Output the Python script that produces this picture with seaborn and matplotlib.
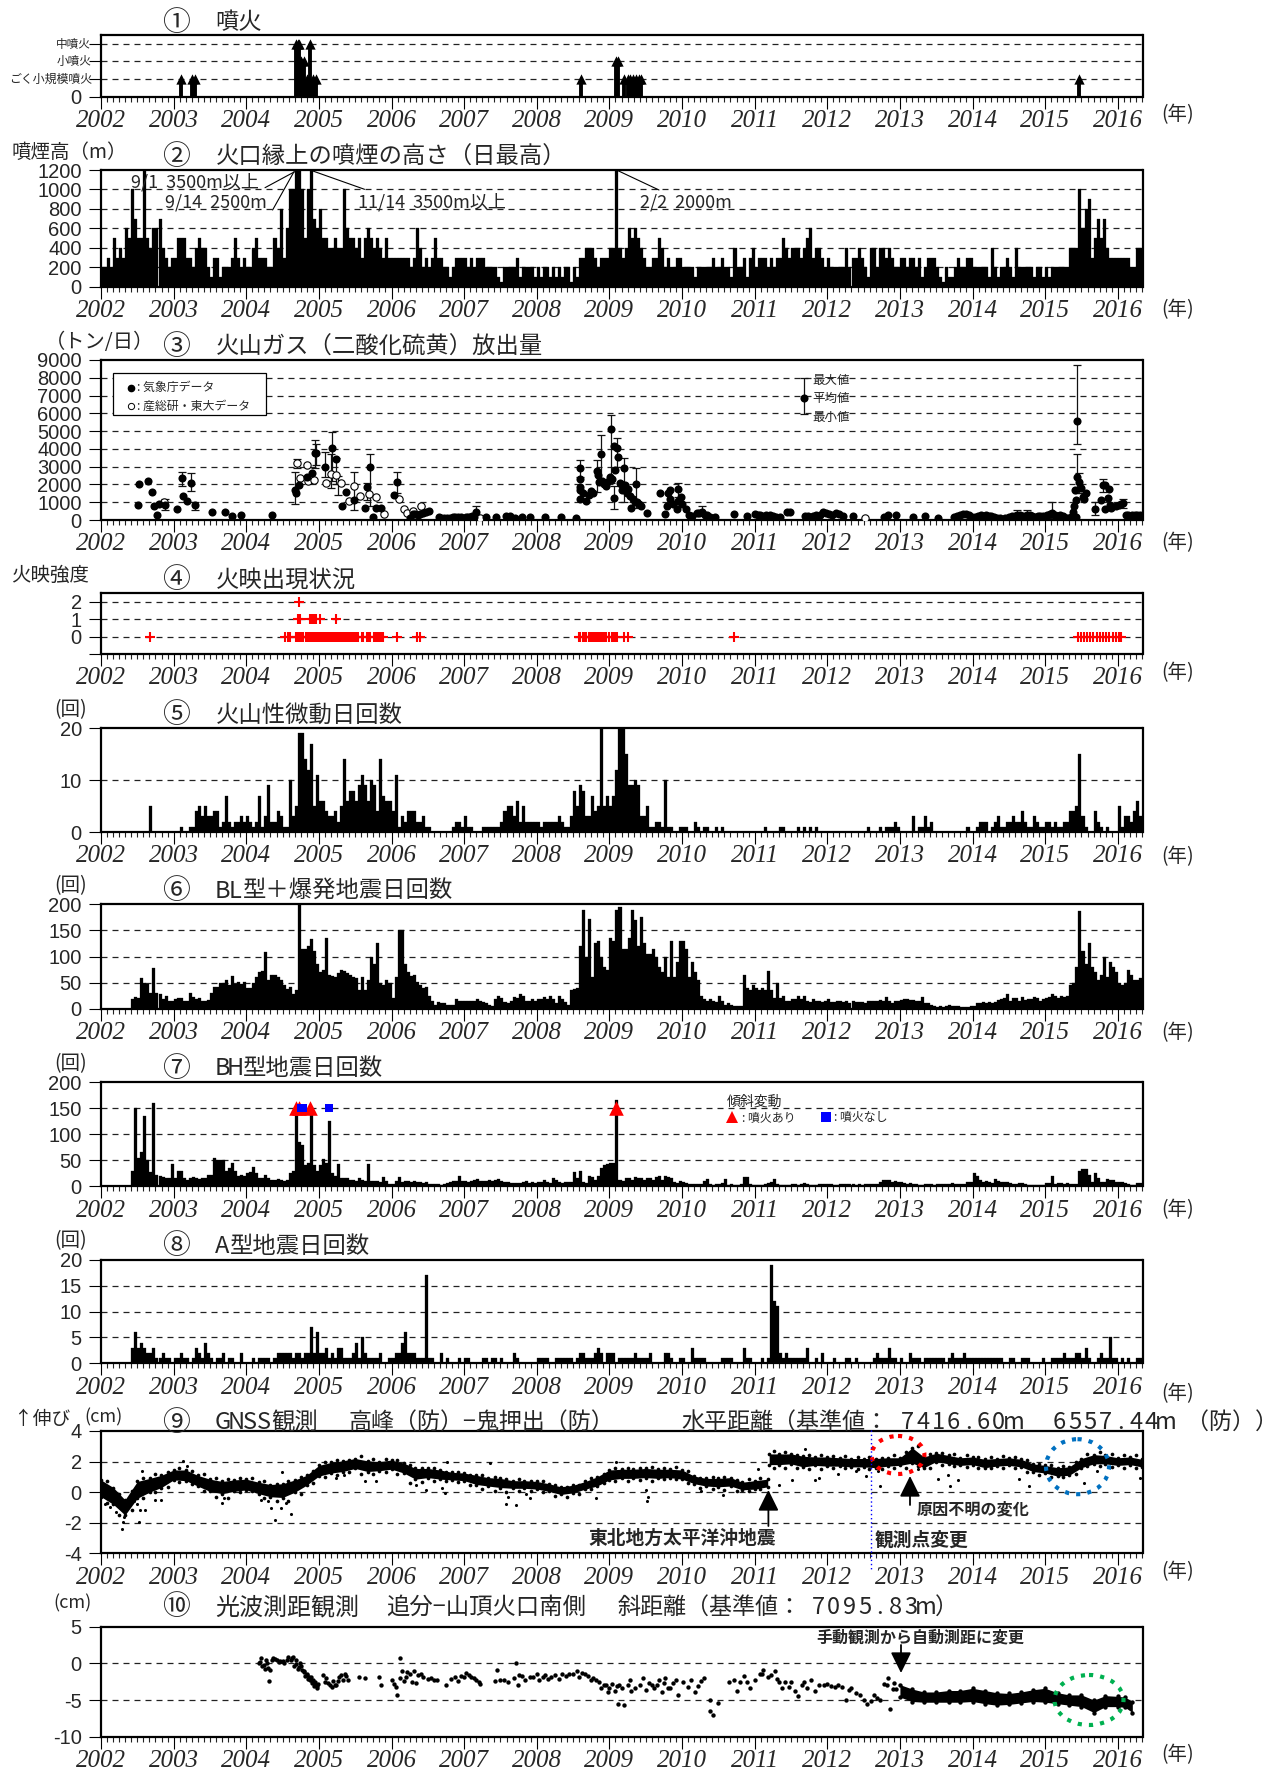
import numpy as np
import pandas as pd
import matplotlib
matplotlib.use("Agg")
import matplotlib.pyplot as plt
from matplotlib.patches import Ellipse, Rectangle
from matplotlib.ticker import MultipleLocator
import seaborn as sns

# half-month bins, one row per year (2002 ... 2016)
smoke_rows = [
    [200,200,300,200,500,300,400,300,600,500,1000,700,500,500,1200,500,400,600,600,700,400,300,200,300],
    [300,500,500,500,300,300,200,400,500,400,400,200,100,300,300,100,200,200,200,300,500,300,200,300],
    [200,200,400,500,300,300,300,200,200,500,400,800,300,600,1000,1000,1200,1200,1000,500,1000,1200,700,600],
    [800,500,500,400,400,500,400,400,1000,600,500,500,400,500,300,500,600,500,400,500,400,300,500,300],
    [300,300,300,300,300,300,200,300,600,400,200,300,200,300,500,300,300,200,200,100,200,300,300,300],
    [300,200,300,200,300,300,300,200,200,200,200,100,50,200,200,200,200,300,100,200,200,200,200,100],
    [200,100,200,200,100,200,100,200,100,200,200,50,200,100,300,300,400,400,400,300,200,300,300,300],
    [400,400,1200,400,300,400,600,500,600,500,400,300,200,200,300,300,500,400,200,300,200,200,300,300],
    [200,200,200,200,100,200,200,200,200,200,300,200,200,300,200,200,100,400,200,200,300,100,300,400],
    [200,300,300,300,200,300,200,300,300,500,400,300,400,400,400,300,400,500,600,300,400,400,300,200],
    [300,200,200,200,200,200,400,200,300,300,400,300,200,100,400,400,200,400,400,300,400,300,200,200],
    [300,300,200,300,300,200,300,100,200,300,300,300,200,100,50,200,100,100,200,300,200,200,300,300],
    [200,200,200,200,200,100,400,200,100,200,200,300,200,100,400,200,200,200,200,200,100,200,200,100],
    [200,100,200,200,200,200,200,200,400,400,400,1000,600,800,900,300,500,700,500,700,400,300,300,300],
    [300,300,300,300,200,200,400,400],
]
tremor_rows = [
    [0,0,0,0,0,0,0,0,0,0,0,0,0,0,0,0,5,0,0,0,0,0,0,0],
    [0,0,1,0,0,1,1,4,5,3,5,3,3,4,4,1,2,7,2,1,2,2,3,2],
    [3,2,1,2,7,1,3,9,2,2,4,3,1,1,10,3,5,19,19,14,12,17,5,11],
    [6,6,4,3,3,4,2,5,14,6,8,8,6,9,11,9,6,10,9,4,14,7,6,6],
    [4,11,1,3,2,4,4,4,2,2,3,1,1,0,0,0,0,0,0,0,1,2,2,1],
    [3,1,1,0,0,0,1,1,1,1,1,1,2,4,5,5,3,6,2,5,2,2,2,2],
    [2,1,2,2,2,2,2,3,2,1,1,3,8,5,9,8,3,3,7,4,5,20,5,7],
    [5,7,12,20,20,15,9,9,10,9,3,3,5,1,1,2,2,1,10,1,1,0,0,1],
    [1,1,0,0,2,1,0,1,1,0,0,1,0,1,0,0,0,0,0,0,0,0,0,0],
    [0,0,0,1,0,0,0,0,1,1,0,0,0,0,1,0,1,0,1,0,1,0,0,0],
    [0,0,0,0,0,0,0,0,0,0,0,0,0,1,0,0,0,1,0,1,1,1,2,1],
    [0,0,0,0,3,0,1,1,3,1,2,0,0,0,0,0,0,0,0,0,0,0,1,0],
    [0,1,2,2,2,0,1,2,3,1,1,2,2,3,2,2,4,2,1,1,3,2,1,1],
    [2,2,1,2,1,1,2,2,4,4,5,15,3,1,0,0,4,2,1,0,1,0,0,0],
    [5,1,3,3,2,4,6,3],
]
bl_rows = [
    [0,0,0,0,0,0,0,0,0,0,18,22,20,58,50,48,30,78,30,28,18,25,15,15],
    [18,20,20,15,15,30,22,18,20,15,15,17,30,42,42,50,50,55,45,62,48,52,48,52],
    [40,40,50,60,70,72,108,55,65,65,60,55,45,38,42,28,35,200,115,115,120,133,110,85],
    [70,75,136,65,62,60,68,75,72,68,65,60,58,35,60,35,55,100,85,125,50,45,55,50],
    [20,60,150,150,85,70,62,65,52,45,40,42,25,15,8,12,10,10,8,8,8,18,15,15],
    [15,15,15,15,18,15,12,10,8,5,18,25,20,12,10,15,22,20,28,25,15,15,18,15],
    [18,18,22,18,25,18,10,25,18,12,8,35,38,40,120,190,100,172,60,125,130,100,80,75],
    [135,130,190,195,115,115,135,190,170,120,175,125,105,105,115,100,80,70,100,60,130,60,90,130],
    [130,115,60,90,70,55,25,18,15,18,15,12,25,15,8,10,8,6,6,6,65,40,35,45],
    [40,35,40,35,72,35,20,50,20,25,15,15,18,18,25,18,25,15,12,18,15,15,12,15],
    [18,12,12,15,15,12,14,10,15,12,12,12,10,15,15,15,15,16,15,22,15,10,14,14],
    [16,18,18,16,16,15,14,22,10,10,8,5,4,6,3,6,8,6,5,6,4,4,4,6],
    [6,10,10,12,10,12,10,12,16,18,20,28,15,20,20,15,22,16,18,18,22,20,14,18],
    [20,22,28,25,20,25,22,25,45,50,80,188,110,85,125,80,70,55,65,100,60,90,80,70],
    [50,45,50,75,65,55,55,58],
]
bh_rows = [
    [0,0,0,0,0,0,0,0,0,0,30,150,55,65,135,50,28,160,22,20,18,15,15,42],
    [15,30,30,15,12,15,18,15,14,15,15,22,22,55,50,50,50,30,35,45,30,20,22,20],
    [25,28,38,25,15,15,22,15,13,13,14,12,10,12,25,30,150,85,80,40,45,137,40,30],
    [40,52,45,125,25,20,42,15,15,15,12,12,10,15,12,10,42,10,10,10,8,18,10,5],
    [5,10,18,8,10,10,8,10,8,8,7,8,5,5,5,4,3,4,6,8,10,10,20,10],
    [10,8,10,12,14,10,10,10,12,10,13,14,10,8,8,7,6,6,6,8,10,6,8,6],
    [8,8,12,8,6,15,12,8,6,8,8,8,28,15,30,8,6,20,18,12,20,35,40,42],
    [45,45,165,12,10,15,15,12,18,15,15,12,15,15,12,18,20,12,20,18,15,8,6,10],
    [8,6,5,5,4,4,5,10,14,5,3,4,5,6,14,3,4,3,3,4,18,18,4,3],
    [3,3,3,5,6,8,14,5,3,2,3,3,4,4,3,4,6,4,3,3,3,5,4,4],
    [5,4,3,3,4,4,5,4,4,3,4,3,5,4,5,4,4,8,12,12,12,8,10,8],
    [8,6,5,6,5,4,3,3,5,4,4,3,5,4,5,5,5,6,5,5,5,5,8,8],
    [26,20,12,8,10,8,6,14,10,8,8,8,6,5,5,6,6,4,2,2,3,3,2,2],
    [6,6,20,5,6,6,5,6,5,5,5,30,33,33,22,8,25,15,8,8,14,12,12,8],
    [8,8,6,5,3,3,6,6],
]
a_rows = [
    [0,0,0,0,0,0,0,0,0,0,3,6,3,4,3,2,2,3,1,1,2,1,1,0],
    [1,1,2,1,1,0,1,3,2,1,4,2,1,0,1,1,2,0,1,1,0,0,2,0],
    [0,0,1,0,1,1,1,1,0,1,2,2,2,2,2,1,2,2,1,2,2,7,2,6],
    [2,2,3,1,2,1,3,3,1,1,1,2,4,1,5,2,1,1,1,1,2,0,0,1],
    [1,2,2,4,6,2,2,2,1,1,1,17,1,1,0,0,2,0,1,0,0,0,1,0],
    [1,1,0,0,0,0,1,1,0,1,1,0,1,0,0,0,2,1,0,0,0,0,0,0],
    [1,1,1,1,0,0,1,1,1,1,1,1,0,1,2,2,1,1,1,2,3,2,0,2],
    [2,2,0,1,1,1,1,1,2,1,1,1,1,2,0,0,0,0,2,2,1,0,0,1],
    [1,0,0,3,1,1,1,1,0,0,0,0,0,1,1,1,1,0,0,0,3,1,1,0],
    [0,0,1,0,1,19,12,11,2,1,2,1,1,1,1,1,1,3,0,0,1,0,2,0],
    [0,0,1,0,0,0,1,1,0,1,0,0,0,0,0,1,2,1,1,1,3,1,1,0],
    [1,0,0,2,1,1,1,0,1,1,1,1,1,1,1,0,1,2,1,1,1,2,1,1],
    [1,1,1,1,1,1,1,1,1,1,0,0,1,1,0,0,1,1,1,0,0,0,0,1],
    [0,0,1,1,1,1,2,1,1,1,2,2,1,3,1,0,0,1,2,1,1,5,1,1],
    [0,1,0,1,0,0,1,1],
]

# eruptions: year, level
eruptions = [(2003.10,1),(2003.25,1),(2003.29,1),(2004.68,3),(2004.71,3),(2004.73,3),(2004.76,2),
             (2004.79,2),(2004.83,1),(2004.88,3),(2004.92,1),(2004.96,1),(2008.61,1),(2009.09,2),
             (2009.12,2),(2009.20,1),(2009.25,1),(2009.29,1),(2009.33,1),(2009.37,1),(2009.41,1),
             (2009.44,1),(2015.47,1)]

# SO2
so2_jma = [(2002.51,840),(2002.53,2000),(2002.65,2190),(2002.70,1550),(2002.73,800),(2002.77,280),
           (2002.80,900),(2002.88,840),(2003.04,640),(2003.11,2340),(2003.13,1350),(2003.19,1070),
           (2003.24,2100),(2003.29,840),(2003.53,430),(2003.71,470),(2003.80,220),(2003.93,300),
           (2004.36,280),(2004.67,1660),(2004.68,1500),(2004.73,1950),(2004.83,2430),(2004.90,2650),
           (2004.94,3760),(2004.96,3760),(2005.09,3000),(2005.18,4050),(2005.24,3420),(2005.32,760),
           (2005.38,1560),(2005.48,1150),(2005.66,1850),(2005.70,3000),(2005.64,700),(2005.74,190),
           (2005.79,670),(2005.86,670),(2006.04,1430),(2006.08,2140),(2006.26,130),(2006.29,320),
           (2006.39,320),(2006.43,420),(2006.52,480),(2006.65,150),(2006.72,120),(2006.80,130),
           (2006.88,170),(2006.96,190),(2007.02,190),(2007.08,180),(2007.13,180),(2007.17,430),
           (2007.30,190),(2007.44,150),(2007.58,220),(2007.63,220),(2007.70,130),(2007.80,150),
           (2007.91,190),(2008.12,190),(2008.33,190),(2008.54,110),(2008.60,2950),(2008.59,2330),
           (2008.595,1850),(2008.60,1660),(2008.59,1180),(2008.68,1090),(2008.74,1620),(2008.77,1530),
           (2008.83,2770),(2008.84,2520),(2008.88,3720),(2008.86,2140),(2008.92,2040),(2008.97,2140),
           (2009.01,2430),(2009.02,5130),(2009.06,4140),(2009.10,4050),(2009.12,3530),(2009.08,2840),
           (2009.20,2940),(2009.06,1220),(2009.16,2040),(2009.22,1950),(2009.26,1760),(2009.28,1370),
           (2009.30,670),(2009.36,2000),(2009.38,990),(2009.43,800),(2009.52,380),(2009.69,1510),
           (2009.83,1660),(2009.94,1720),(2009.84,1180),(2009.79,800),(2009.77,360),(2009.93,610),
           (2009.95,1090),(2010.00,900),(2010.05,610),(2010.20,370),(2010.28,470),(2010.34,280),
           (2010.45,150),(2010.72,330),(2010.90,220),(2011.01,330),(2011.10,220),(2011.21,280),
           (2011.35,150),(2011.45,430),(2011.49,430),(2011.69,220),(2011.80,220),(2011.94,470),
           (2012.02,330),(2012.12,410),(2012.22,220),(2012.35,220),(2012.78,150),(2012.84,280),
           (2012.94,280),(2013.18,150),(2013.35,240),(2013.53,130),(2013.74,150),(2013.83,280),
           (2013.91,330),(2013.99,190),(2014.07,220),(2014.18,280),(2014.30,190),(2014.38,100),
           (2014.50,150),(2014.61,280),(2014.75,280),(2014.86,190),(2014.97,220),(2015.10,410),
           (2015.20,280),(2015.31,100),(2015.42,150),(2015.38,470),(2015.44,5590),(2015.44,2440),
           (2015.41,1690),(2015.47,2150),(2015.43,1120),(2015.56,1500),(2015.52,1300),(2015.69,600),
           (2015.79,1970),(2015.82,1970),(2015.88,1720),(2015.77,1120),(2015.87,1220),(2015.83,600),
           (2015.89,840),(2016.02,840),(2016.07,930),(2016.11,280),(2016.19,280),(2016.27,280),
           (2011.68,6880)]
so2_jma_extra = [(2006.33,350),(2006.36,280),(2006.47,460),(2006.68,130),(2006.76,120),(2006.84,150),(2006.92,180),
                 (2007.05,170),(2007.11,200),(2008.64,1500),(2008.72,1400),(2008.90,2200),(2008.95,1900),(2009.04,2300),
                 (2009.14,2100),(2009.18,1700),(2009.24,1500),(2009.32,1200),(2009.35,1000),(2009.41,900),(2009.81,1500),
                 (2009.87,900),(2009.98,1300),(2010.10,300),(2010.14,240),(2010.24,420),(2010.31,300),(2010.39,170),
                 (2011.04,300),(2011.07,260),(2011.15,280),(2011.25,220),(2011.30,180),(2011.74,210),(2011.85,260),
                 (2011.90,300),(2011.98,400),(2012.06,300),(2012.16,330),(2013.79,200),(2013.87,320),(2013.95,270),
                 (2014.03,180),(2014.12,260),(2014.15,220),(2014.22,240),(2014.26,200),(2014.34,130),(2014.44,130),
                 (2014.55,200),(2014.58,240),(2014.65,260),(2014.70,240),(2014.79,260),(2014.82,220),(2014.90,210),
                 (2014.93,250),(2015.02,260),(2015.06,320),(2015.14,300),(2015.17,250),(2015.25,200),(2015.28,130),
                 (2015.35,180),(2015.39,800),(2015.50,1800),(2015.54,1200),(2015.90,700),(2015.98,800),(2016.04,900),
                 (2016.14,270),(2016.23,280),(2016.31,270)]
so2_aist = [(2002.87,1030),(2004.70,3220),(2004.74,2390),(2004.83,3090),(2004.85,2190),(2004.93,2270),
            (2005.10,2100),(2005.16,2610),(2005.24,2520),(2005.30,2100),(2005.41,1090),(2005.48,1910),
            (2005.56,1370),(2005.69,1470),(2005.79,1280),(2005.90,320),(2006.10,1180),(2006.17,610),
            (2006.22,420),(2006.29,480),(2006.41,760),(2007.22,100),(2012.52,130)]
# year, mean, lower, upper
so2_err = [(2002.88,840,550,1200),(2003.11,2340,1900,2700),(2003.24,2100,1650,2650),(2003.29,840,550,1000),
           (2004.67,1660,900,2700),(2004.70,3220,2900,3450),(2004.94,3760,2900,4500),(2004.96,3760,3100,4300),
           (2005.09,3000,2400,3800),(2005.18,4050,2200,4950),(2005.16,2610,1800,3700),(2005.24,3420,2000,3500),
           (2005.26,2000,1400,2500),(2005.48,1150,550,2700),(2005.70,3000,800,3700),(2005.66,1850,1100,2100),
           (2006.08,2140,1500,2700),(2006.41,760,450,800),(2007.17,430,250,780),(2008.60,2950,2400,3350),
           (2008.88,3720,2000,4800),(2009.02,5130,2100,5900),(2009.10,4050,3000,4600),(2008.83,2770,1600,3400),
           (2009.06,1220,600,1900),(2009.36,2000,700,2900),(2009.20,2940,1000,3500),(2009.94,1720,1300,2100),
           (2010.28,470,250,800),(2011.68,6880,5950,8000),(2014.61,280,100,580),(2014.75,280,100,580),
           (2015.10,410,100,1000),(2015.44,5590,4300,8700),(2015.44,2440,1500,3730),(2015.47,2150,1500,2650),
           (2015.79,1970,1600,2300),(2015.69,600,300,1000),(2016.07,930,700,1200)]

# glow intensity
glow_0 = [2002.67,2004.54,2004.58,2004.60,2004.68,2004.70,2004.72,2004.74,2004.76,2004.78,2004.82,2004.84,
          2004.86,2004.88,2004.90,2004.92,2004.94,2004.96,2004.98,2005.00,2005.02,2005.04,2005.06,2005.08,
          2005.10,2005.12,2005.14,2005.16,2005.18,2005.20,2005.22,2005.24,2005.26,2005.28,2005.30,2005.32,
          2005.34,2005.36,2005.38,2005.40,2005.42,2005.44,2005.46,2005.48,2005.50,2005.52,2005.54,2005.59,
          2005.61,2005.66,2005.68,2005.71,2005.76,2005.78,2005.80,2005.82,2005.84,2005.86,2005.88,2006.08,
          2006.35,2006.39,2008.58,2008.60,2008.64,2008.66,2008.68,2008.72,2008.74,2008.76,2008.78,2008.80,
          2008.82,2008.84,2008.86,2008.88,2008.90,2008.92,2008.94,2008.96,2008.99,2009.04,2009.06,2009.08,
          2009.10,2009.20,2009.25,2010.71,2015.45,2015.49,2015.53,2015.58,2015.62,2015.66,2015.71,2015.75,
          2015.79,2015.84,2015.88,2015.93,2015.97,2016.02,2016.05]
glow_1 = [2004.71,2004.74,2004.88,2004.90,2004.92,2004.94,2004.96,2005.02,2005.24]
glow_2 = [2004.72]

# tilt events on panel 7
tilt_eruption = [2004.68, 2004.73, 2004.88, 2009.09]
tilt_no_eruption = [2004.76, 2004.78, 2005.14]

# GNSS envelope, before and after the 2011 earthquake
gnss_years_a = [2002.0,2002.17,2002.33,2002.5,2002.67,2002.83,2003.0,2003.17,2003.33,2003.5,2003.67,2003.83,
                2004.0,2004.17,2004.33,2004.5,2004.67,2004.83,2005.0,2005.17,2005.33,2005.5,2005.67,2005.83,
                2006.0,2006.17,2006.33,2006.5,2006.67,2006.83,2007.0,2007.17,2007.33,2007.5,2007.67,2007.83,
                2008.0,2008.17,2008.33,2008.5,2008.67,2008.83,2009.0,2009.17,2009.33,2009.5,2009.67,2009.83,
                2010.0,2010.17,2010.33,2010.5,2010.67,2010.83,2011.0,2011.18]
gnss_high_a = [.8,.3,-.5,.7,.9,1.1,1.45,1.45,1.1,.85,.7,.8,.85,.65,.5,.55,.8,1.1,1.75,1.95,2.05,2.2,2.05,2.0,
               2.1,1.9,1.55,1.55,1.45,1.3,1.25,1.1,.95,.9,.75,.75,.7,.55,.35,.45,.7,1.0,1.45,1.5,1.5,1.55,1.5,1.5,
               1.45,1.05,.9,.9,.95,.65,.75,.85]
gnss_low_a = [-.3,-.8,-1.5,-.4,.0,.3,.8,.75,.4,.05,-.1,.05,.15,-.1,-.3,-.35,.0,.45,1.05,1.25,1.35,1.55,1.35,1.4,
              1.5,1.25,.85,.95,.85,.8,.75,.5,.4,.3,.25,.25,.2,.05,-.15,-.05,.2,.4,.8,.9,.9,.95,.9,.95,
              .85,.55,.4,.35,.4,.15,.2,.35]
gnss_years_b = [2011.2,2011.33,2011.5,2011.67,2011.83,2012.0,2012.17,2012.33,2012.5,2012.67,2012.83,
                2013.0,2013.17,2013.33,2013.5,2013.67,2013.83,2014.0,2014.17,2014.33,2014.5,2014.67,2014.83,
                2015.0,2015.17,2015.33,2015.5,2015.67,2015.83,2016.0,2016.17,2016.33]
gnss_high_b = [2.5,2.5,2.5,2.35,2.3,2.3,2.25,2.2,2.2,2.2,2.25,2.25,2.9,2.3,2.55,2.4,2.25,2.3,2.15,2.2,2.25,2.15,1.85,
               1.75,1.6,1.65,2.2,2.45,2.4,2.25,2.3,2.15]
gnss_low_b = [1.8,1.8,1.85,1.65,1.75,1.7,1.7,1.65,1.65,1.6,1.7,1.75,1.9,1.6,2.0,1.85,1.75,1.8,1.6,1.7,1.75,1.65,1.35,
              1.25,1.05,1.1,1.6,1.85,1.85,1.75,1.8,1.65]
# straggling points just outside the band, between the envelope readings
gnss_fuzz_years = [2002.08,2002.25,2002.42,2002.58,2002.75,2002.92,2003.08,2003.25,2003.42,2003.58,2003.75,2003.92,
                   2004.08,2004.25,2004.42,2004.58,2004.75,2004.92,2005.08,2005.25,2005.42,2005.58,2005.75,2005.92,
                   2006.08,2006.25,2006.42,2006.58,2006.75,2006.92,2007.08,2007.25,2007.42,2007.58,2007.75,2007.92,
                   2008.08,2008.25,2008.42,2008.58,2008.75,2008.92,2009.08,2009.25,2009.42,2009.58,2009.75,2009.92,
                   2010.08,2010.25,2010.42,2010.58,2010.75,2010.92,2011.08,
                   2011.27,2011.42,2011.58,2011.75,2011.92,2012.08,2012.25,2012.42,2012.58,2012.75,2012.92,
                   2013.08,2013.25,2013.42,2013.58,2013.75,2013.92,2014.08,2014.25,2014.42,2014.58,2014.75,2014.92,
                   2015.08,2015.25,2015.42,2015.58,2015.75,2015.92,2016.08,2016.25]
gnss_fuzz_hi = [.7,-.1,.1,.9,1.2,1.3,1.6,1.4,1.2,.95,.85,.95,.95,.7,.55,.75,1.0,1.4,1.95,2.1,2.1,2.35,2.15,2.2,
                2.1,1.75,1.6,1.55,1.35,1.35,1.15,1.1,1.0,.85,.85,.75,.7,.5,.35,.5,.9,1.2,1.6,1.6,1.6,1.65,1.6,1.65,
                1.4,.95,1.0,1.0,.8,.85,.95,
                2.7,2.65,2.45,2.45,2.45,2.35,2.35,2.3,2.3,2.25,2.4,2.6,3.0,2.5,2.55,2.5,2.4,2.3,2.3,2.35,2.3,2.1,1.85,
                1.75,1.7,1.95,2.5,2.6,2.5,2.4,2.4]
gnss_fuzz_lo = [-.7,-1.5,-1.2,-.4,.0,.35,.65,.55,.1,-.3,-.35,.0,.05,-.35,-.55,-.6,-.1,.6,1.0,1.1,1.35,1.2,1.2,1.3,
                1.2,.6,.65,.7,.7,.65,.45,.2,.1,.0,.05,.1,.0,-.25,-.3,-.1,.2,.6,.75,.75,.8,.75,.85,.85,
                .6,.3,.2,.15,.05,.05,.2,
                1.6,1.55,1.6,1.5,1.5,1.55,1.55,1.5,1.5,1.5,1.55,1.6,1.7,1.6,1.75,1.7,1.65,1.6,1.55,1.6,1.55,1.3,1.1,
                1.0,1.0,1.2,1.7,1.7,1.65,1.6,1.55]
gnss_scatter = [(2002.29,-2.4),(2002.32,-1.6),(2002.3,-1.95),(2002.52,-1.95),(2002.54,-1.2),(2002.6,-1.2),
                (2002.74,-.5),(2002.83,-.5),(2002.57,1.4),(2003.13,2.05),(2003.19,1.7),(2003.67,-.7),(2004.2,-.5),
                (2004.34,-1.05),(2004.4,-1.8),(2004.48,-1.05),(2004.62,-1.4),(2004.49,1.3),(2005.63,.7),(2005.78,.75),
                (2005.24,.9),(2006.34,.5),(2006.48,.15),(2006.7,.25),(2006.73,-.05),(2006.76,2.0),(2007.35,1.9),
                (2007.57,-.75),(2007.71,-.85),(2007.91,-.4),(2008.81,-.4),(2009.09,1.95),(2009.53,-.3),(2009.5,.15),
                (2009.52,-.55),(2010.26,.05),(2010.57,-.2),(2011.33,.5),(2011.52,.8),(2011.83,.8),(2011.89,.9),
                (2011.69,2.8),(2011.04,1.5),(2012.53,1.05),(2012.73,.4),(2012.7,1.4),(2013.52,.85),(2013.69,.4),
                (2013.66,1.15),(2013.8,.8),(2014.64,.85),(2014.78,.4),(2015.54,.6),(2015.71,1.4),(2016.3,.9),
                (2002.05,-.8),(2002.12,-1.0),(2002.2,-1.3),(2002.45,-.6),(2002.5,-.8),(2003.7,-.4),(2004.3,-.6),
                (2004.55,-.7),(2005.35,1.1),(2007.6,-.3),(2007.85,-.1),(2012.15,1.2),(2012.4,1.4),(2013.25,1.5)]

# EDM distance
edm_points = [(2004.17,0.0),(2004.2,0.7),(2004.24,-0.2),(2004.27,0.4),(2004.3,-0.6),(2004.32,-2.4),(2004.33,-0.9),
              (2004.37,0.7),(2004.42,0.5),(2004.47,0.3),(2004.52,0.1),(2004.58,0.9),(2004.63,0.7),(2004.66,-0.4),
              (2004.68,0.4),(2004.71,-0.7),(2004.74,0.0),(2004.77,-0.9),(2004.8,-1.2),(2004.83,-1.6),(2004.85,-2.1),
              (2004.88,-2.3),(2004.91,-2.7),(2004.94,-3.0),(2004.97,-3.4),(2004.99,-2.8),(2005.06,-1.6),(2005.1,-2.0),
              (2005.13,-2.7),(2005.18,-3.2),(2005.22,-2.9),(2005.27,-2.4),(2005.3,-1.6),(2005.36,-1.4),(2005.4,-2.2),
              (2005.55,-1.8),(2005.63,-2.0),(2005.83,-1.8),(2005.86,-3.0),(2006.0,-2.3),(2006.06,-3.2),(2006.08,-4.3),
              (2006.11,0.7),(2006.14,-1.1),(2006.2,-1.8),(2006.25,-1.5),(2006.31,-1.1),(2006.34,-2.7),(2006.4,-1.4),
              (2006.5,-2.1),(2006.62,-2.3),(2006.75,-2.9),(2006.82,-2.1),(2006.88,-1.9),(2007.0,-1.9),(2007.07,-1.6),
              (2007.14,-2.0),(2007.2,-2.5),(2007.42,-2.4),(2007.45,-0.9),(2007.5,-2.3),(2007.55,-2.3),(2007.72,-0.0),
              (2007.74,-2.9),(2007.8,-1.7),(2007.9,-1.9),(2008.0,-1.4),(2008.08,-1.9),(2008.15,-2.1),(2008.25,-1.6),
              (2008.35,-1.4),(2008.45,-1.5),(2008.55,-1.1),(2008.62,-1.3),(2008.7,-1.7),(2008.78,-2.0),(2008.85,-2.5),
              (2008.92,-3.0),(2009.0,-3.4),(2009.08,-3.8),(2009.13,-2.9),(2009.12,-5.6),(2009.2,-5.7),(2009.25,-3.0),
              (2009.3,-3.8),(2009.42,-2.9),(2009.5,-3.6),(2009.55,-2.7),(2009.62,-3.3),(2009.68,-2.3),(2009.72,-3.9),
              (2009.77,-2.0),(2009.84,-3.3),(2009.92,-2.3),(2009.95,-4.3),(2010.12,-2.2),(2010.18,-3.9),(2010.26,-2.4),
              (2010.38,-5.0),(2010.39,-6.5),(2010.42,-7.0),(2010.5,-5.4),(2010.65,-2.5),(2010.72,-2.3),(2010.76,-3.7),
              (2010.85,-1.7),(2010.9,-2.6),(2010.94,-3.3),(2011.07,-1.5),(2011.12,-0.9),(2011.18,-1.9),(2011.28,-1.1),
              (2011.33,-2.5),(2011.38,-3.4),(2011.42,-2.5),(2011.5,-2.6),(2011.55,-3.7),(2011.6,-4.4),(2011.72,-3.3),
              (2011.78,-2.2),(2011.83,-3.7),(2011.95,-3.0),(2012.0,-2.8),(2012.1,-3.2),(2012.2,-3.2),(2012.26,-5.0),
              (2012.33,-3.3),(2012.4,-4.0),(2012.5,-5.0),(2012.55,-5.6),(2012.65,-4.3),(2012.72,-5.0),(2012.78,-2.8),
              (2012.84,-2.0),(2012.9,-3.5),(2012.87,-6.2),(2012.95,-3.5)]
edm_extra = [(2004.19,0.2),(2004.22,-0.4),(2004.26,-0.7),(2004.29,0.1),(2004.35,0.5),(2004.4,0.6),(2004.45,0.2),
             (2004.5,0.3),(2004.56,0.5),(2004.61,0.4),(2004.65,0.9),(2004.69,-0.1),(2004.73,-0.5),(2004.76,-0.3),
             (2004.79,-1.0),(2004.81,-1.7),(2004.84,-1.4),(2004.86,-1.9),(2004.89,-1.8),(2004.9,-2.4),(2004.92,-2.2),
             (2004.93,-3.1),(2004.95,-2.6),(2004.98,-3.1),(2005.08,-2.5),(2005.15,-3.0),(2005.2,-2.4),(2005.24,-3.0),
             (2005.28,-1.9),(2005.33,-2.3),(2005.38,-1.7),(2006.03,-2.8),(2006.12,-2.0),(2006.17,-2.4),(2006.22,-1.2),
             (2006.28,-2.5),(2006.37,-1.6),(2006.44,-1.8),(2006.55,-2.0),(2006.58,-2.2),(2006.92,-2.4),(2006.96,-1.7),
             (2007.03,-1.3),(2007.1,-1.8),(2007.17,-2.2),(2007.22,-2.8),(2007.6,-2.5),(2007.68,-2.0),(2007.76,-1.6),
             (2007.84,-2.3),(2007.95,-1.8),(2008.03,-2.3),(2008.12,-1.6),(2008.2,-1.9),(2008.3,-2.1),(2008.4,-1.7),
             (2008.5,-1.4),(2008.58,-1.8),(2008.66,-1.5),(2008.74,-2.3),(2008.82,-2.2),(2008.88,-3.3),(2008.95,-2.9),
             (2008.98,-3.9),(2009.04,-2.8),(2009.1,-3.1),(2009.17,-3.3),(2009.28,-2.3),(2009.35,-3.4),(2009.46,-2.0),
             (2009.58,-3.0),(2009.65,-2.9),(2009.75,-2.7),(2009.8,-3.4),(2009.88,-2.7),(2010.02,-2.6),(2010.08,-3.2),
             (2010.22,-3.1),(2010.3,-2.0),(2010.8,-2.6),(2011.0,-2.2),(2011.1,-1.5),(2011.22,-1.6),(2011.31,-2.1),
             (2011.47,-3.2),(2011.65,-3.0),(2011.68,-2.6),(2011.88,-2.9),(2012.05,-3.1),(2012.15,-2.9),(2012.3,-3.6),
             (2012.45,-4.3),(2012.6,-5.1),(2012.68,-4.7),(2012.82,-3.0),(2012.92,-2.7)]
edm_years = [2013.0,2013.17,2013.33,2013.5,2013.67,2013.83,2014.0,2014.17,2014.33,2014.5,2014.67,2014.83,
             2015.0,2015.17,2015.33,2015.5,2015.67,2015.83,2016.0,2016.1,2016.2]
edm_high = [-2.9,-3.5,-3.9,-3.9,-3.7,-3.7,-3.4,-3.7,-4.0,-4.1,-3.9,-3.6,-3.4,-4.0,-4.3,-4.3,-5.0,-4.4,-4.5,-4.6,-5.2]
edm_low = [-4.6,-5.2,-5.3,-5.3,-5.3,-5.3,-5.2,-5.5,-5.7,-5.6,-5.4,-5.2,-5.3,-5.5,-5.7,-5.9,-6.7,-5.9,-5.9,-6.0,-6.7]

panel_titles = ["噴火", "火口縁上の噴煙の高さ（日最高）", "火山ガス（二酸化硫黄）放出量", "火映出現状況",
                "火山性微動日回数", "＋爆発地震日回数", "型地震日回数", "型地震日回数"]
circled = ["①", "②", "③", "④", "⑤", "⑥", "⑦", "⑧", "⑨", "⑩"]
year_labels = [str(y) for y in range(2002, 2017)]

W, H = 1277, 1769
LEFT, RIGHT = 101, 1142.5
XMAX = 2016.34
CJK = ["Noto Sans CJK JP", "DejaVu Sans"]

sns.set_style("white")
plt.rcParams["font.family"] = CJK
plt.rcParams["axes.unicode_minus"] = False

fig = plt.figure(figsize=(W / 100, H / 100), dpi=100)


def panel(top, bottom, ymin, ymax, ticks, labels, grid):
    ax = fig.add_axes([LEFT / W, 1 - bottom / H, (RIGHT - LEFT) / W, (bottom - top) / H])
    ax.set_xlim(2002, XMAX)
    ax.set_ylim(ymin, ymax)
    for s in ax.spines.values():
        s.set_visible(True)
        s.set_color("black")
        s.set_linewidth(1.6)
    ax.set_xticks(range(2002, 2017))
    ax.set_xticklabels(year_labels, fontfamily="Liberation Serif", fontstyle="italic", fontsize=18)
    ax.xaxis.set_minor_locator(MultipleLocator(1 / 12))
    ax.tick_params(axis="x", which="major", bottom=True, length=8.6, width=0.8, pad=1, color="black")
    ax.tick_params(axis="x", which="minor", bottom=True, length=3.8, width=0.8, color="#222222")
    ax.set_yticks(ticks)
    ax.set_yticklabels(labels, fontfamily="Liberation Sans", fontsize=14.5)
    ax.tick_params(axis="y", left=True, length=8.8, width=0.8, pad=5, color="black")
    for g in grid:
        ax.axhline(g, color="#222222", lw=0.9, dashes=(4.8, 4), zorder=1)
    return ax


def draw_bars(ax, rows):
    years, values = [], []
    for i, row in enumerate(rows):
        for k, v in enumerate(row):
            years.append(round(2002 + i + (k + 0.5) / 24, 4))
            values.append(v)
    df = pd.DataFrame({"year": years, "value": values})
    sns.barplot(data=df, x="year", y="value", native_scale=True, color="black", saturation=1,
                width=1, errorbar=None, linewidth=0.2, edgecolor="black", zorder=3, ax=ax)
    ax.set_xlabel("")
    ax.set_ylabel("")
    ax.set_xlim(2002, XMAX)


def pts(items):
    return pd.DataFrame(items, columns=["year", "value"])


# 1 eruptions
ax1 = panel(35, 96.7, 0, 3.5, [0, 1, 2, 3], ["0", "", "", ""], [1, 2, 3])
erupt = pts(eruptions)
ax1.vlines(erupt["year"], 0, erupt["value"], color="black", lw=2.8, zorder=3)
sns.scatterplot(data=erupt, x="year", y="value", marker="^", s=55, color="black", linewidth=0, zorder=4, ax=ax1)

# 2 plume height
ax2 = panel(170, 286.7, 0, 1200, list(range(0, 1201, 200)), [str(v) for v in range(0, 1201, 200)],
            [200, 400, 600, 800, 1000])
draw_bars(ax2, smoke_rows)

# 3 SO2
ax3 = panel(360, 520, 0, 9000, list(range(0, 9001, 1000)), [str(v) for v in range(0, 9001, 1000)],
            list(range(1000, 9000, 1000)))
err = pd.DataFrame(so2_err, columns=["year", "mean", "lo", "hi"])
ax3.errorbar(err["year"], err["mean"], yerr=[err["mean"] - err["lo"], err["hi"] - err["mean"]], fmt="none",
             ecolor="#111111", elinewidth=0.9, capsize=3, capthick=0.9, zorder=2)
sns.scatterplot(data=pts(so2_aist), x="year", y="value", marker="o", s=28, facecolor="white", edgecolor="black",
                linewidth=0.8, zorder=3, ax=ax3)
sns.scatterplot(data=pts(so2_jma + so2_jma_extra), x="year", y="value", marker="o", s=34, color="black", linewidth=0,
                zorder=4, ax=ax3)

# 4 glow
ax4 = panel(593.3, 654, -1, 2.5, [-1, 0, 1, 2], ["", "0", "1", "2"], [0, 1, 2])
for vals, lev in [(glow_0, 0), (glow_1, 1), (glow_2, 2)]:
    df = pd.DataFrame({"year": vals, "value": [lev] * len(vals)})
    sns.scatterplot(data=df, x="year", y="value", marker="+", s=42, color="red", linewidth=1.5, zorder=3, ax=ax4)

# 5-8 daily counts
ax5 = panel(728.3, 832, 0, 20, [0, 10, 20], ["0", "10", "20"], [10])
draw_bars(ax5, tremor_rows)
ax6 = panel(904.3, 1008.7, 0, 200, [0, 50, 100, 150, 200], ["0", "50", "100", "150", "200"], [50, 100, 150])
draw_bars(ax6, bl_rows)
ax7 = panel(1082.3, 1186.3, 0, 200, [0, 50, 100, 150, 200], ["0", "50", "100", "150", "200"], [50, 100, 150])
draw_bars(ax7, bh_rows)
tilt_a = pd.DataFrame({"year": tilt_eruption, "value": [150] * len(tilt_eruption)})
tilt_b = pd.DataFrame({"year": tilt_no_eruption, "value": [150] * len(tilt_no_eruption)})
sns.scatterplot(data=tilt_a, x="year", y="value", marker="^", s=110, color="red", linewidth=0, zorder=5, ax=ax7)
sns.scatterplot(data=tilt_b, x="year", y="value", marker="s", s=38, color="blue", linewidth=0, zorder=6, ax=ax7)
ax8 = panel(1259.7, 1363.3, 0, 20, [0, 5, 10, 15, 20], ["0", "5", "10", "15", "20"], [5, 10, 15])
draw_bars(ax8, a_rows)

# 9 GNSS
ax9 = panel(1431, 1553.3, -4, 4, [-4, -2, 0, 2, 4], ["-4", "-2", "0", "2", "4"], [-2, 0, 2])
for ys, hi, lo in [(gnss_years_a, gnss_high_a, gnss_low_a), (gnss_years_b, gnss_high_b, gnss_low_b)]:
    ax9.fill_between(ys, lo, hi, color="black", lw=0, zorder=3)
    sns.scatterplot(x=ys + ys, y=hi + lo, marker="o", s=7, color="black", linewidth=0, zorder=3, ax=ax9)
sns.scatterplot(x=gnss_fuzz_years + gnss_fuzz_years, y=gnss_fuzz_hi + gnss_fuzz_lo, marker="o", s=7, color="black",
                linewidth=0, zorder=3, ax=ax9)
sns.scatterplot(data=pts(gnss_scatter), x="year", y="value", marker="o", s=5, color="black", linewidth=0, zorder=3, ax=ax9)

# 10 EDM
ax10 = panel(1626.7, 1736.7, -10, 5, [-10, -5, 0, 5], ["-10", "-5", "0", "5"], [-5, 0])
sns.scatterplot(data=pts(edm_points + edm_extra), x="year", y="value", marker="o", s=10, color="black", linewidth=0,
                zorder=3, ax=ax10)
ax10.fill_between(edm_years, edm_low, edm_high, color="black", lw=0, zorder=3)
sns.scatterplot(x=edm_years + edm_years, y=edm_high + edm_low, marker="o", s=10, color="black", linewidth=0, zorder=3, ax=ax10)

for ax in [ax1, ax2, ax3, ax4, ax5, ax6, ax7, ax8, ax9, ax10]:
    ax.set_xlabel("")
    ax.set_ylabel("")
    ax.set_xlim(2002, XMAX)

# overlay in pixel coordinates for the annotation layer
ann = fig.add_axes([0, 0, 1, 1])
ann.set_xlim(0, W)
ann.set_ylim(H, 0)
ann.axis("off")
ann.patch.set_alpha(0)


def txt(x, y, s, size=14, ha="left", **kw):
    ann.text(x, y, s, fontsize=size, ha=ha, va="center", **kw)


def spaced(x, y, s, step, size=17):
    # half-width glyphs of the original sit on a wider, fixed pitch
    for i, ch in enumerate(s):
        ann.text(x + i * step + step / 2, y, ch, fontsize=size, ha="center", va="center")


def arrow(x, y0, y1, scale=15):
    ann.annotate("", xy=(x, y1), xytext=(x, y0),
                 arrowprops=dict(arrowstyle="-|>,head_width=0.42,head_length=0.85", color="black", lw=1.3,
                                 mutation_scale=scale, shrinkA=0, shrinkB=0))


title_y = [22.5, 157, 347, 580, 715, 891, 1068.5, 1246, 1422.5, 1607]
for mark, yy in zip(circled, title_y):
    txt(176, yy, mark, size=20, ha="center")
for s, yy in zip(panel_titles[:5], title_y[:5]):
    txt(215.5, yy, s, size=16.8)
spaced(215.5, title_y[5], "BL", 13)
txt(243, title_y[5], "型" + panel_titles[5], size=16.8)
spaced(215.5, title_y[6], "BH", 13)
txt(243, title_y[6], panel_titles[6], size=16.8)
spaced(215.5, title_y[7], "A", 13)
txt(230, title_y[7], panel_titles[7], size=16.8)
spaced(215.5, title_y[8], "GNSS", 13.9)
txt(271.5, title_y[8], "観測", size=16.8)
txt(349, title_y[8], "高峰（防）−鬼押出（防）", size=16.6)
txt(681.8, title_y[8], "水平距離（基準値：", size=16.6)
spaced(900, title_y[8], "7416.60m", 15.2)
spaced(1052, title_y[8], "6557.44m", 15.2)
txt(1186, title_y[8], "（防））", size=16.6)
txt(215.5, title_y[9], "光波測距観測", size=17.3)
txt(386.5, title_y[9], "追分−山頂火口南側", size=16.8)
txt(618, title_y[9], "斜距離（基準値：", size=16.6)
spaced(810.6, title_y[9], "7095.83m", 15.4)
txt(934.5, title_y[9], "）", size=16.6)

txt(11.4, 152, "噴煙高（m）", size=14)
txt(45, 342.7, "（トン/日）", size=14.6)
txt(11.4, 575, "火映強度", size=14)
for yy in [710, 886, 1063.7, 1241]:
    txt(54, yy, "(回)", size=14)
txt(14, 1419, "↑伸び", size=13.5)
txt(84, 1417, "(cm)", size=13)
txt(53, 1603, "(cm)", size=13)
for yy in [115, 310, 543, 672.7, 857, 1032.7, 1210, 1393.7, 1572, 1755]:
    txt(1161, yy, "(年)", size=14)

# level names panel 1
txt(91, 44, "中噴火", size=8.4, ha="right")
txt(91, 61.7, "小噴火", size=8.4, ha="right")
txt(92, 79.3, "ごく小規模噴火", size=8.6, ha="right")

# callouts panel 2
txt(131, 182.7, "9/1  3500m以上", size=13)
txt(165, 202, "9/14  2500m", size=13)
txt(358, 202, "11/14  3500m以上", size=13)
txt(640, 202, "2/2  2000m", size=13)
for xs, ys in [((265, 294.7), (187.7, 171.7)), ((272.6, 294), (210, 171.7)), ((312, 364.5), (170.7, 189.3)),
               ((618, 659), (170.7, 190))]:
    ann.plot(xs, ys, color="black", lw=0.8)

# legend panel 3
ann.add_patch(Rectangle((113, 372.7), 153, 42.6, fc="white", ec="black", lw=0.9))
ann.plot(131, 387.7, "o", color="black", ms=4.5)
ann.plot(131, 406, "o", mfc="white", mec="black", ms=4.5, mew=0.7)
txt(137, 387.7, ": 気象庁データ", size=8.6)
txt(137, 406, ": 産総研・東大データ", size=8.6)
txt(812.7, 380, "最大値", size=9)
txt(812.7, 398, "平均値", size=9)
txt(812.7, 417, "最小値", size=9)

# legend panel 7
txt(727, 1101.7, "傾斜変動", size=10)
ann.plot(732, 1116.7, "^", color="red", ms=9, mew=0)
ann.plot(826, 1117, "s", color="blue", ms=6.5, mew=0)
txt(742.4, 1117.7, ": 噴火あり", size=8.6)
txt(834, 1117.7, ": 噴火なし", size=8.6)

# notes panels 9, 10
txt(588, 1538, "東北地方太平洋沖地震", size=13.5, fontweight="bold")
txt(874.8, 1540, "観測点変更", size=13.5, fontweight="bold")
txt(917, 1509, "原因不明の変化", size=11.6, fontweight="bold")
txt(816.7, 1637, "手動観測から自動測距に変更", size=11.5, fontweight="bold")
arrow(768.4, 1526, 1490)
arrow(910, 1505, 1476)
arrow(901, 1645, 1673)
ann.plot([871, 871], [1430, 1570], color="blue", lw=1.0, ls=(0, (1, 2)))
for cx, cy, rx, ry, col in [(898, 1455, 26.4, 19, "red"), (1077.5, 1466.7, 31.5, 27.5, "#0070c0"),
                            (1089, 1700, 34.5, 25, "#00b050")]:
    ann.add_patch(Ellipse((cx, cy), 2 * rx, 2 * ry, fill=False, ec=col, lw=3, ls=(0, (1, 1.7))))

fig.savefig("out.png", dpi=100)
